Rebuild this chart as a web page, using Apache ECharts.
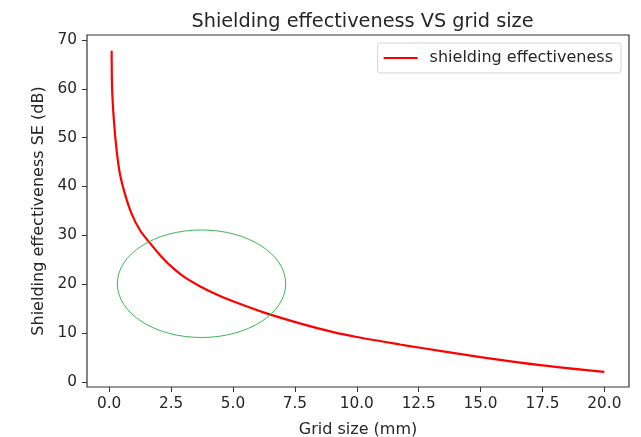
<!DOCTYPE html>
<html>
<head>
<meta charset="utf-8">
<script src="https://cdn.jsdelivr.net/npm/echarts@6/dist/echarts.min.js"></script>
<style>
  html, body { margin: 0; padding: 0; background: #fff; }
  #chart { width: 641px; height: 437px; }
</style>
</head>
<body>
<div id="chart"></div>
<script>
// grid size (mm) and shielding effectiveness (dB)
const gridSize = [0.1, 0.12, 0.2, 0.3, 0.43, 0.63, 0.9, 1.24, 1.65, 2.05, 2.45, 3.0, 3.66, 4.34, 5.0, 6.2, 7.7, 9.05, 10.0, 11.75, 12.5, 15.0, 17.5, 20.0]
const shielding = [67.8, 59.8, 52.9, 47.5, 42.7, 38.6, 34.5, 31.1, 28.4, 26.0, 23.9, 21.6, 19.6, 17.9, 16.5, 14.3, 12.0, 10.2, 9.2, 7.66, 7.05, 5.1, 3.4, 2.05]

const xTicks = [0, 2.5, 5, 7.5, 10, 12.5, 15, 17.5, 20]
const yTicks = [0, 10, 20, 30, 40, 50, 60, 70]

// hand-drawn green ellipse: centre and one corner of its bounding box, in data units
const ringCenter = [3.73, 20.1]
const ringCorner = [7.13, 31.1]

const FONT = 'DejaVu Sans'
const TEXT = '#262626'
const SPINE = '#333333'

const chart = echarts.init(document.getElementById('chart'), null, { renderer: 'canvas' })

const tickStyle = { show: true, length: 5, lineStyle: { color: SPINE, width: 1 } }

chart.setOption({
  animation: false,
  backgroundColor: '#fff',
  title: {
    text: 'Shielding effectiveness VS grid size',
    left: 357.5,
    top: 7,
    textAlign: 'center',
    textStyle: { fontFamily: FONT, fontSize: 19.3, fontWeight: 'normal', color: TEXT },
  },
  legend: {
    right: 20,
    top: 43,
    padding: [7, 8, 7, 6],
    icon: 'rect',
    itemWidth: 34,
    itemHeight: 2,
    borderColor: '#d4d4d4',
    borderWidth: 1,
    borderRadius: 3,
    backgroundColor: 'rgba(255,255,255,0.8)',
    textStyle: { fontFamily: FONT, fontSize: 16, color: TEXT, padding: [0, 0, 0, 7] },
    data: ['shielding effectiveness'],
  },
  grid: {
    left: 87, right: 12, top: 35, bottom: 50,
    outerBoundsMode: 'none',
    containLabel: false,
    show: true,
    borderColor: SPINE,
    borderWidth: 1.2,
    backgroundColor: 'transparent',
  },
  xAxis: {
    type: 'value',
    min: -0.895,
    max: 20.995,
    name: 'Grid size (mm)',
    nameLocation: 'middle',
    nameGap: 35,
    nameTextStyle: { fontFamily: FONT, fontSize: 16, color: TEXT },
    axisLine: { show: false, onZero: false },
    axisTick: { ...tickStyle, customValues: xTicks },
    axisLabel: {
      customValues: xTicks,
      margin: 10,
      fontFamily: FONT, fontSize: 15.3, color: TEXT,
      formatter: v => v.toFixed(1),
    },
    splitLine: { show: false },
  },
  yAxis: {
    type: 'value',
    min: -1.03,
    max: 71.0,
    name: 'Shielding effectiveness SE (dB)',
    nameLocation: 'middle',
    nameGap: 35,
    nameRotate: 90,
    nameTextStyle: { fontFamily: FONT, fontSize: 16, color: TEXT },
    axisLine: { show: false, onZero: false },
    axisTick: { ...tickStyle, customValues: yTicks },
    axisLabel: {
      customValues: yTicks,
      margin: 10,
      fontFamily: FONT, fontSize: 15.3, color: TEXT,
    },
    splitLine: { show: false },
  },
  series: [{
    name: 'shielding effectiveness',
    type: 'line',
    data: gridSize.map((x, i) => [x, shielding[i]]),
    symbol: 'none',
    smooth: 0.3,
    lineStyle: { color: '#ff0000', width: 2.2 },
    itemStyle: { color: '#ff0000' },
  }],
})

// place the ellipse through the chart's own scales
const c = chart.convertToPixel({ gridIndex: 0 }, ringCenter)
const e = chart.convertToPixel({ gridIndex: 0 }, ringCorner)
chart.setOption({
  graphic: [{
    type: 'ellipse',
    shape: { cx: c[0], cy: c[1], rx: Math.abs(e[0] - c[0]), ry: Math.abs(e[1] - c[1]) },
    style: { fill: 'none', stroke: '#3cb45a', lineWidth: 1 },
    z: 10,
  }],
})
</script>
</body>
</html>
